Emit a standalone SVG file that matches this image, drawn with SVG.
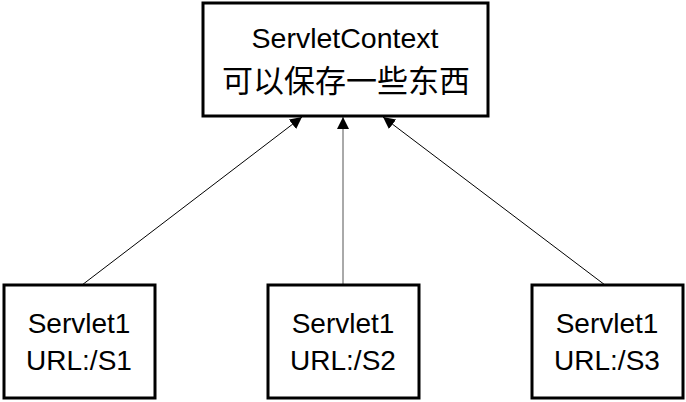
<svg xmlns="http://www.w3.org/2000/svg" width="686" height="402" viewBox="0 0 686 402">
<style>
.box{fill:#fff;stroke:#000;stroke-width:3}
.t{font-family:"Liberation Sans","Noto Sans CJK SC",sans-serif;fill:#000;text-anchor:middle}
.edge{stroke:#000;stroke-width:1;fill:none;marker-end:url(#ah)}
</style>
<defs>
<marker id="ah" viewBox="0 0 10 10" refX="10" refY="5" markerWidth="12" markerHeight="12" markerUnits="userSpaceOnUse" orient="auto">
<path d="M0,0 L10,5 L0,10 z" fill="#000"/>
</marker>
</defs>
<rect width="686" height="402" fill="#fff"/>
<g id="edges">
<line class="edge" x1="82" y1="285" x2="302" y2="117"/>
<line class="edge" x1="343" y1="285" x2="343" y2="117" style="stroke:#555"/>
<line class="edge" x1="605" y1="285" x2="383" y2="117"/>
</g>
<g id="context">
<rect class="box" x="203" y="3" width="285" height="113"/>
<text class="t" x="345" y="48" font-size="28.5">ServletContext</text>
<text class="t" x="346" y="92" font-size="31">可以保存一些东西</text>
</g>
<g id="s1">
<rect class="box" x="4" y="285" width="151" height="113"/>
<text class="t" x="79" y="333" font-size="28">Servlet1</text>
<text class="t" x="79" y="370" font-size="28">URL:/S1</text>
</g>
<g id="s2">
<rect class="box" x="268" y="285" width="151" height="113"/>
<text class="t" x="343" y="333" font-size="28">Servlet1</text>
<text class="t" x="343" y="370" font-size="28">URL:/S2</text>
</g>
<g id="s3">
<rect class="box" x="532" y="285" width="151" height="113"/>
<text class="t" x="607" y="333" font-size="28">Servlet1</text>
<text class="t" x="607" y="370" font-size="28">URL:/S3</text>
</g>
</svg>
